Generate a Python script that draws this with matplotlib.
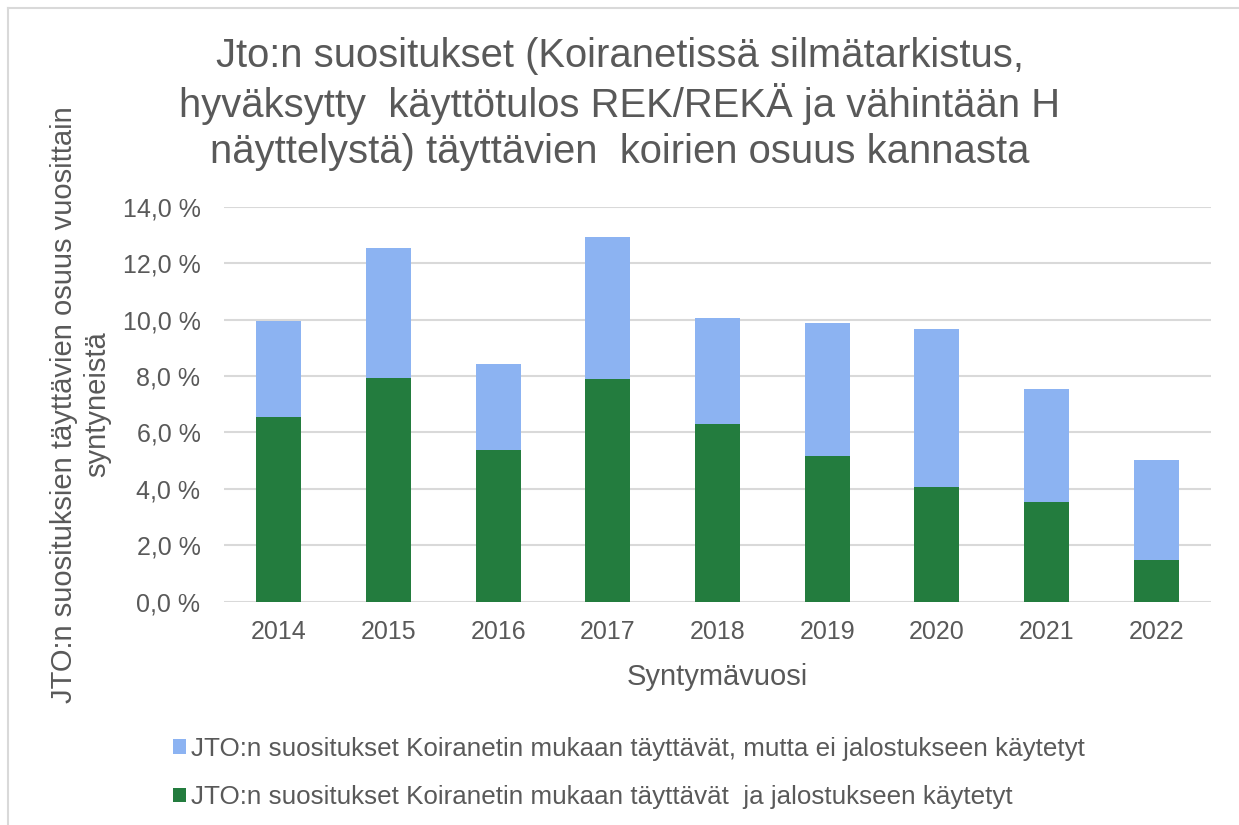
import numpy as np
import matplotlib.pyplot as plt
from matplotlib.lines import Line2D
from matplotlib.ticker import FuncFormatter

plt.rcParams['font.family'] = ['Liberation Sans', 'DejaVu Sans']

# Arvot luettu kuvasta (% syntyneistä)
vuodet = ['2014', '2015', '2016', '2017', '2018', '2019', '2020', '2021', '2022']
jalostukseen = [6.55, 7.92, 5.37, 7.89, 6.29, 5.17, 4.08, 3.54, 1.47]
yhteensa = [9.95, 12.52, 8.42, 12.91, 10.05, 9.89, 9.66, 7.53, 5.01]
ei_jalostukseen = [t - j for t, j in zip(yhteensa, jalostukseen)]

otsikko = ('Jto:n suositukset (Koiranetissä silmätarkistus,\n'
           'hyväksytty  käyttötulos REK/REKÄ ja vähintään H\n'
           'näyttelystä) täyttävien  koirien osuus kannasta')
ylabel = 'JTO:n suosituksien täyttävien osuus vuosittain\nsyntyneistä'
leg_ei = 'JTO:n suositukset Koiranetin mukaan täyttävät, mutta ei jalostukseen käytetyt'
leg_jal = 'JTO:n suositukset Koiranetin mukaan täyttävät  ja jalostukseen käytetyt'

vihrea = '#237C3E'
sininen = '#8CB3F2'
harmaa = '#595959'

fig = plt.figure(figsize=(12.39, 8.25), dpi=100)
ax = fig.add_axes([0.1808, 0.2707, 0.7966, 0.4788])

x = np.arange(len(vuodet))
b1 = ax.bar(x, jalostukseen, width=0.41, color=vihrea, zorder=3)
b2 = ax.bar(x, ei_jalostukseen, width=0.41, bottom=jalostukseen, color=sininen, zorder=3)

ax.set_xlim(-0.5, len(vuodet) - 0.5)
ax.set_ylim(0, 14)
ax.set_yticks(np.arange(0, 15, 2))
ax.yaxis.set_major_formatter(FuncFormatter(lambda v, p: f'{v:.1f} %'.replace('.', ',')))
ax.set_xticks(x)
ax.set_xticklabels(vuodet)
ax.grid(axis='y', color='#D9D9D9', linewidth=1.5, zorder=0)
for s in ax.spines.values():
    s.set_visible(False)
ax.tick_params(axis='both', length=0, labelsize=18, colors=harmaa)
ax.tick_params(axis='y', pad=17)
ax.tick_params(axis='x', pad=13)

ax.set_xlabel('Syntymävuosi', fontsize=21, color=harmaa, labelpad=14)
ax.set_ylabel(ylabel, fontsize=21, color=harmaa, labelpad=8, linespacing=1.25)

fig.text(0.5, 0.874, otsikko, ha='center', va='center', fontsize=28.8,
         color=harmaa, linespacing=1.25)

fig.legend([b2, b1], [leg_ei, leg_jal], loc='center left',
           bbox_to_anchor=(0.1295, 0.063), frameon=False, fontsize=18.7,
           labelcolor=harmaa, handlelength=0.47, handleheight=0.47,
           handletextpad=0.2, labelspacing=0.95, borderpad=0)

# kaavion reunaviiva vasemmalla ja ylhäällä
fig.add_artist(Line2D([8 / 1239, 8 / 1239], [0, 1 - 8 / 825], color='#D9D9D9', lw=1.5))
fig.add_artist(Line2D([8 / 1239, 1], [1 - 8 / 825, 1 - 8 / 825], color='#D9D9D9', lw=1.5))

plt.savefig('out.png', dpi=100)
